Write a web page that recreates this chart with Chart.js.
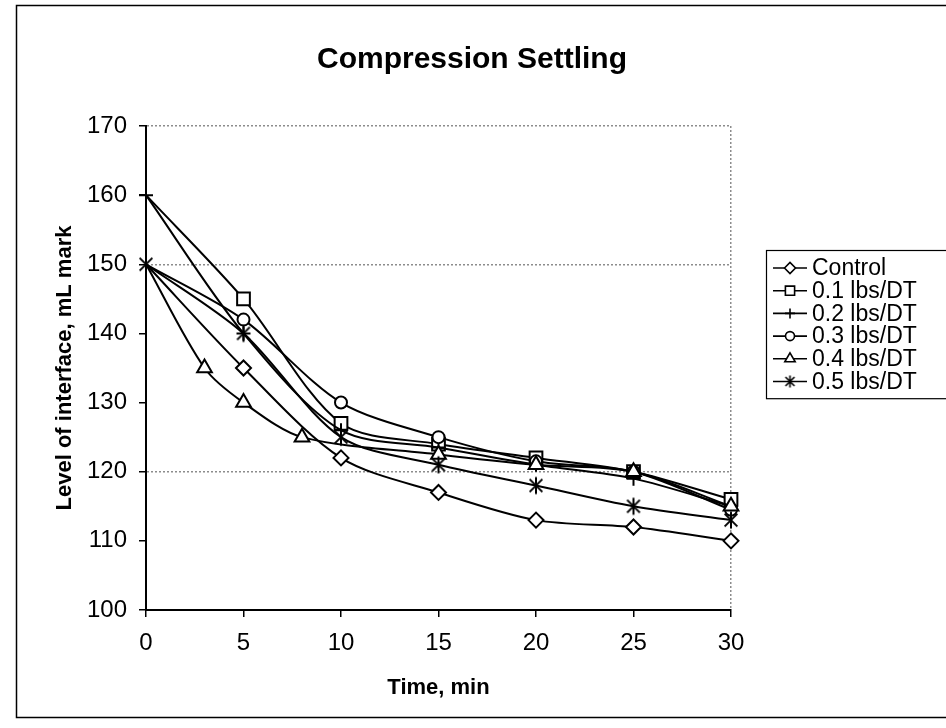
<!DOCTYPE html>
<html>
<head>
<meta charset="utf-8">
<title>Compression Settling</title>
<script src="https://cdn.jsdelivr.net/npm/chart.js@4/dist/chart.umd.min.js"></script>
<style>
  html, body { margin: 0; padding: 0; background: #fff; }
  #wrap { position: relative; width: 946px; height: 728px; }
</style>
</head>
<body>
<div id="wrap"><canvas id="settling" width="946" height="728"></canvas></div>
<script>
// reading times (min); the 0.4 run was also read at 3 and 8 min
const timesStd = [0, 5, 10, 15, 20, 25, 30];
const times04 = [0, 3, 5, 8, 15, 20, 25, 30];

// interface level, mL mark
const control = [150, 135, 122, 117, 113, 112, 110];
const dose01 = [160, 145, 127, 124, 122, 120, 116];
const dose02 = [160, 140, 126, 123.5, 121, 119, 115];
const dose03 = [150, 142, 130, 125, 121.5, 120, 114.5];
const dose04 = [150, 135, 130, 125, 122.5, 121, 120, 115];
const dose05 = [150, 140, 125, 121, 118, 115, 113];

const seriesNames = ['Control', '0.1 lbs/DT', '0.2 lbs/DT', '0.3 lbs/DT', '0.4 lbs/DT', '0.5 lbs/DT'];
const xTicks = [0, 5, 10, 15, 20, 25, 30];
const yTicks = [100, 110, 120, 130, 140, 150, 160, 170];

const FONT = '"Liberation Sans", Arial, sans-serif';
Chart.defaults.font.family = FONT;
Chart.defaults.color = '#000';

// asterisk marker (X with a vertical bar)
function starMarker(size, lw) {
    const c = document.createElement('canvas');
    c.width = size; c.height = size;
    const g = c.getContext('2d');
    const m = size / 2, r = size / 2 - 1.5;
    g.strokeStyle = '#000';
    g.lineWidth = lw;
    g.beginPath();
    g.moveTo(m - r * 0.75, m - r * 0.75); g.lineTo(m + r * 0.75, m + r * 0.75);
    g.moveTo(m + r * 0.75, m - r * 0.75); g.lineTo(m - r * 0.75, m + r * 0.75);
    g.moveTo(m, m - r); g.lineTo(m, m + r);
    g.stroke();
    return c;
}
const starBig = starMarker(20, 2);
const starSmall = starMarker(15, 1.6);

function toPoints(times, values) {
    return times.map((t, i) => ({ x: t, y: values[i] }));
}

const seriesData = [
    toPoints(timesStd, control),
    toPoints(timesStd, dose01),
    toPoints(timesStd, dose02),
    toPoints(timesStd, dose03),
    toPoints(times04, dose04),
    toPoints(timesStd, dose05)
];
const markers = ['rectRot', 'rect', 'cross', 'circle', 'triangle', starBig];
const markerSize = [7.5, 9, 7, 6, 8.5, 10];
// only the 0.2 and 0.5 runs show a marker at the start
const startMarker = [false, false, true, false, false, true];
const legendMarkers = ['rectRot', 'rect', 'cross', 'circle', 'triangle', starSmall];
const legendSize = [5.5, 6.5, 5, 4.5, 6, 7];

// outer chart frame and the centred title
const framePlugin = {
    id: 'frame',
    beforeDraw(chart) {
        const ctx = chart.ctx;
        ctx.save();
        ctx.fillStyle = '#fff';
        ctx.fillRect(0, 0, chart.width, chart.height);
        ctx.strokeStyle = '#000';
        ctx.lineWidth = 1.5;
        ctx.beginPath();
        ctx.moveTo(chart.width + 2, 5.5);
        ctx.lineTo(16.5, 5.5);
        ctx.lineTo(16.5, 717.5);
        ctx.lineTo(chart.width + 2, 717.5);
        ctx.stroke();
        ctx.fillStyle = '#000';
        ctx.font = 'bold 30px ' + FONT;
        ctx.textAlign = 'center';
        ctx.textBaseline = 'middle';
        ctx.fillText('Compression Settling', 472, 60);
        ctx.restore();
    }
};

// boxed legend on the right, line through marker like the plotted series
const sideLegend = {
    id: 'sideLegend',
    afterDraw(chart) {
        const ctx = chart.ctx;
        const left = 766, top = 250, rowH = 22.7;
        ctx.save();
        ctx.strokeStyle = '#000';
        ctx.lineWidth = 1.2;
        ctx.strokeRect(left + 0.5, top + 0.5, 300, rowH * seriesNames.length + 12);
        ctx.font = '23px ' + FONT;
        ctx.textBaseline = 'middle';
        ctx.fillStyle = '#000';
        seriesNames.forEach((name, i) => {
            const y = top + 18 + i * rowH;
            ctx.lineWidth = 1.6;
            ctx.beginPath();
            ctx.moveTo(773, y);
            ctx.lineTo(807, y);
            ctx.stroke();
            ctx.fillStyle = '#fff';
            ctx.lineWidth = 1.6;
            Chart.helpers.drawPoint(ctx, {
                pointStyle: legendMarkers[i], radius: legendSize[i], rotation: 0, borderWidth: 1.6
            }, 790, y);
            ctx.fillStyle = '#000';
            ctx.fillText(name, 812, y + 1);
        });
        ctx.restore();
    }
};

const gridGray = '#8c8c8c';

new Chart(document.getElementById('settling'), {
    type: 'line',
    data: {
        datasets: seriesNames.map((name, i) => ({
            label: name,
            data: seriesData[i],
            order: seriesNames.length - i, // later runs drawn on top
            clip: false,
            borderColor: '#000',
            borderWidth: 2,
            tension: 0.3,
            pointStyle: markers[i],
            pointRadius: seriesData[i].map(p => (p.x === 0 && !startMarker[i]) ? 0 : markerSize[i]),
            pointBackgroundColor: '#fff',
            pointBorderColor: '#000',
            pointBorderWidth: 2
        }))
    },
    options: {
        responsive: false,
        animation: false,
        devicePixelRatio: 1,
        layout: { padding: { left: 40, right: 215, top: 126, bottom: 10 } },
        plugins: {
            legend: { display: false },
            tooltip: { enabled: false }
        },
        scales: {
            x: {
                type: 'linear',
                min: xTicks[0],
                max: xTicks[xTicks.length - 1],
                afterBuildTicks: s => { s.ticks = xTicks.map(v => ({ value: v })); },
                afterFit: s => { s.height = 108; },
                ticks: { font: { size: 24 }, padding: 12, maxRotation: 0 },
                grid: {
                    color: c => c.tick && c.tick.value === 30 ? gridGray : 'rgba(0,0,0,0)',
                    lineWidth: 1.5,
                    tickColor: '#000',
                    tickLength: 7,
                    tickWidth: 1.5
                },
                border: { color: '#000', width: 2, dash: [2, 2] },
                title: {
                    display: true,
                    text: 'Time, min',
                    font: { size: 22, weight: 'bold' },
                    padding: { top: 0, bottom: 17 }
                }
            },
            y: {
                min: yTicks[0],
                max: yTicks[yTicks.length - 1],
                afterBuildTicks: s => { s.ticks = yTicks.map(v => ({ value: v })); },
                afterFit: s => { s.width = 106; },
                ticks: { font: { size: 24 }, padding: 12 },
                grid: {
                    color: c => c.tick && [120, 150, 170].includes(c.tick.value) ? gridGray : 'rgba(0,0,0,0)',
                    lineWidth: 1.5,
                    tickColor: '#000',
                    tickLength: 7,
                    tickWidth: 1.5
                },
                border: { color: '#000', width: 2, dash: [2, 2] },
                title: {
                    display: true,
                    text: 'Level of interface, mL mark',
                    font: { size: 22, weight: 'bold' },
                    padding: { top: 12, bottom: 0 }
                }
            }
        }
    },
    plugins: [framePlugin, sideLegend]
});
</script>
</body>
</html>
